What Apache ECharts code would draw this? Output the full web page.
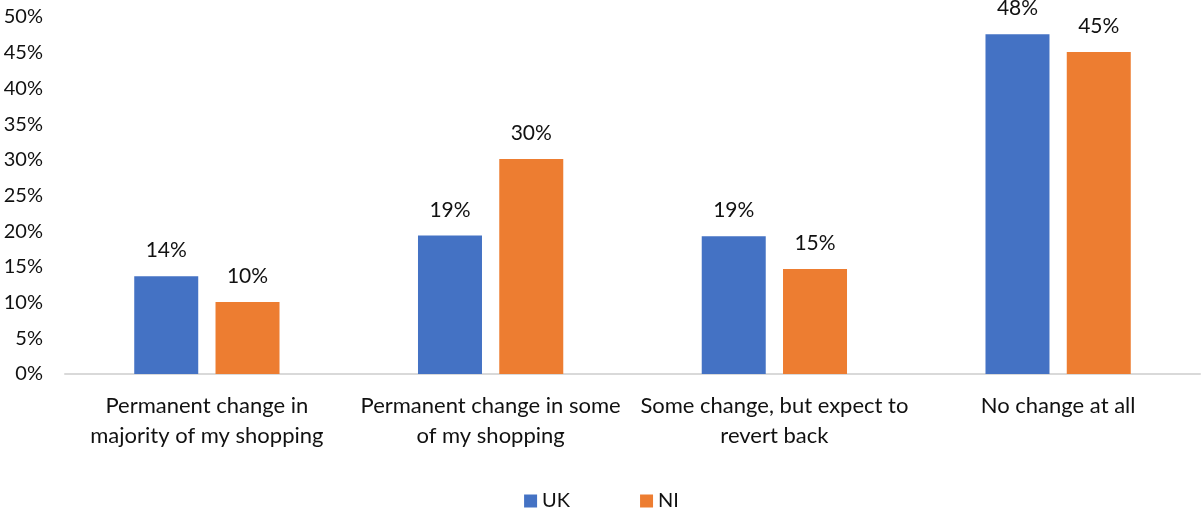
<!DOCTYPE html>
<html><head><meta charset="utf-8">
<script src="https://cdn.jsdelivr.net/npm/echarts@6/dist/echarts.min.js"></script>
<style>html,body{margin:0;padding:0;background:#fff}#c{width:1203px;height:517px}</style>
</head><body><div id="c"></div>
<script>
const categories = ["Permanent change in\nmajority of my shopping", "Permanent change in some\nof my shopping", "Some change, but expect to\nrevert back", "No change at all"];
const ukValues = [13.7, 19.4, 19.3, 47.6];
const niValues = [10.1, 30.1, 14.7, 45.1];
const yTicks = [0, 5, 10, 15, 20, 25, 30, 35, 40, 45, 50];
const FONT = "Lato";
const txt = "#111111";
const chart = echarts.init(document.getElementById('c'));
const lbl = {show: true, position: 'top', distance: 15, color: txt, fontFamily: FONT, fontSize: 21, formatter: p => Math.round(p.value) + '%'};
chart.setOption({
  animation: false,
  grid: {left: 65, right: 3, top: 17, bottom: 143, containLabel: false},
  legend: {bottom: 1, left: 'center', itemWidth: 13, itemHeight: 13, itemGap: 70, icon: 'rect',
    textStyle: {color: txt, fontFamily: FONT, fontSize: 20}, data: ['UK', 'NI']},
  xAxis: {type: 'category', data: categories,
    axisLine: {lineStyle: {color: '#d9d9d9', width: 2}}, axisTick: {show: false},
    axisLabel: {color: txt, fontFamily: FONT, fontSize: 22, lineHeight: 30, margin: 17, interval: 0}},
  yAxis: {type: 'value', min: yTicks[0], max: yTicks[yTicks.length - 1], interval: 5,
    axisLine: {show: false}, axisTick: {show: false}, splitLine: {show: false},
    axisLabel: {color: txt, fontFamily: FONT, fontSize: 20, margin: 22, formatter: v => v + '%'}},
  series: [
    {name: 'UK', type: 'bar', data: ukValues, barWidth: 64, barGap: '27%', itemStyle: {color: '#4472C4'}, label: lbl},
    {name: 'NI', type: 'bar', data: niValues, barWidth: 64, itemStyle: {color: '#ED7D31'}, label: lbl}
  ]
});
</script></body></html>
